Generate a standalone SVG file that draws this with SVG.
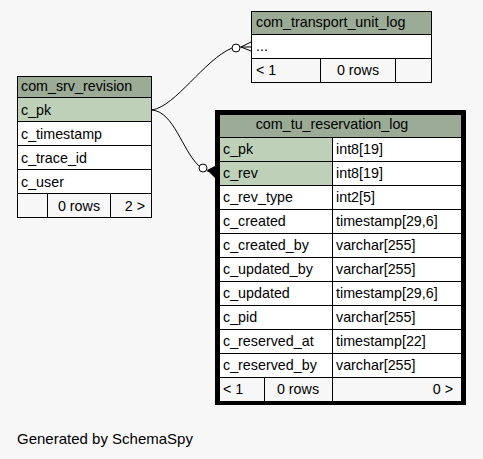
<svg xmlns="http://www.w3.org/2000/svg" width="483" height="459" viewBox="0 0 483 459">
<style>
text{font-family:"Liberation Sans",Arial,Helvetica,sans-serif;font-size:14.3px;fill:#000}
.hd{fill:#9bab96;stroke:#000;stroke-width:1}
.pk{fill:#bed1b8;stroke:#000;stroke-width:1}
.rw{fill:#ffffff;stroke:#000;stroke-width:1}
.ft{fill:#f7f7f7;stroke:#000;stroke-width:1}
.ln{stroke:#000;stroke-width:1;fill:none}
.mid{text-anchor:middle}
.end{text-anchor:end}
</style>
<rect x="0" y="0" width="483" height="459" fill="#f7f7f7"/>
<g id="connectors">
<path class="ln" d="M152,110 C176,106 204,60 232,48"/>
<circle cx="236" cy="48" r="4" fill="#fff" stroke="#000" stroke-width="1"/>
<path class="ln" d="M240,47 L252,47 M241,47 L251,42 M241,47 L251,51"/>
<path class="ln" d="M152,110 C174,112 182,150 199,166"/>
<circle cx="203" cy="168" r="4" fill="#fff" stroke="#000" stroke-width="1"/>
<polygon points="207,170 215,166 215,178" fill="#000"/>
<path class="ln" d="M207,171 L215,173"/>
</g>
<g id="com_srv_revision">
<rect class="hd" x="17.5" y="76.5" width="134" height="21"/>
<rect class="pk" x="17.5" y="97.5" width="134" height="24"/>
<rect class="rw" x="17.5" y="121.5" width="134" height="24"/>
<rect class="rw" x="17.5" y="145.5" width="134" height="24"/>
<rect class="rw" x="17.5" y="169.5" width="134" height="24"/>
<rect class="ft" x="17.5" y="193.5" width="134" height="24"/>
<path class="ln" d="M47.5,193.5 V217.5 M110.5,193.5 V217.5"/>
<text x="21" y="91">com_srv_revision</text>
<text x="21" y="114.5">c_pk</text>
<text x="21" y="138.5">c_timestamp</text>
<text x="21" y="162.5">c_trace_id</text>
<text x="21" y="186.5">c_user</text>
<text class="mid" x="79" y="210.5">0 rows</text>
<text class="end" x="145" y="210.5">2 &gt;</text>
</g>
<g id="com_transport_unit_log">
<rect class="hd" x="251.5" y="11.5" width="180" height="23"/>
<rect class="rw" x="251.5" y="34.5" width="180" height="24"/>
<rect class="ft" x="251.5" y="58.5" width="180" height="24"/>
<path class="ln" d="M320.5,58.5 V82.5 M395.5,58.5 V82.5"/>
<text x="256" y="27">com_transport_unit_log</text>
<text x="256" y="51">...</text>
<text x="256" y="75">&lt; 1</text>
<text class="mid" x="358" y="75">0 rows</text>
</g>
<g id="com_tu_reservation_log">
<rect class="hd" x="219.5" y="114.5" width="242" height="23"/>
<rect class="pk" x="219.5" y="137.5" width="113" height="24"/>
<rect class="rw" x="332.5" y="137.5" width="129" height="24"/>
<rect class="pk" x="219.5" y="161.5" width="113" height="24"/>
<rect class="rw" x="332.5" y="161.5" width="129" height="24"/>
<rect class="rw" x="219.5" y="185.5" width="113" height="24"/>
<rect class="rw" x="332.5" y="185.5" width="129" height="24"/>
<rect class="rw" x="219.5" y="209.5" width="113" height="24"/>
<rect class="rw" x="332.5" y="209.5" width="129" height="24"/>
<rect class="rw" x="219.5" y="233.5" width="113" height="24"/>
<rect class="rw" x="332.5" y="233.5" width="129" height="24"/>
<rect class="rw" x="219.5" y="257.5" width="113" height="24"/>
<rect class="rw" x="332.5" y="257.5" width="129" height="24"/>
<rect class="rw" x="219.5" y="281.5" width="113" height="24"/>
<rect class="rw" x="332.5" y="281.5" width="129" height="24"/>
<rect class="rw" x="219.5" y="305.5" width="113" height="24"/>
<rect class="rw" x="332.5" y="305.5" width="129" height="24"/>
<rect class="rw" x="219.5" y="329.5" width="113" height="24"/>
<rect class="rw" x="332.5" y="329.5" width="129" height="24"/>
<rect class="rw" x="219.5" y="353.5" width="113" height="24"/>
<rect class="rw" x="332.5" y="353.5" width="129" height="24"/>
<rect class="ft" x="219.5" y="377.5" width="242" height="24"/>
<path class="ln" d="M264.5,377.5 V401.5 M332.5,377.5 V401.5"/>
<rect x="217" y="112" width="247" height="291" fill="none" stroke="#000" stroke-width="4"/>
<text class="mid" x="332" y="129">com_tu_reservation_log</text>
<text x="223" y="154">c_pk</text><text x="336" y="154">int8[19]</text>
<text x="223" y="178">c_rev</text><text x="336" y="178">int8[19]</text>
<text x="223" y="202">c_rev_type</text><text x="336" y="202">int2[5]</text>
<text x="223" y="226">c_created</text><text x="336" y="226">timestamp[29,6]</text>
<text x="223" y="250">c_created_by</text><text x="336" y="250">varchar[255]</text>
<text x="223" y="274">c_updated_by</text><text x="336" y="274">varchar[255]</text>
<text x="223" y="298">c_updated</text><text x="336" y="298">timestamp[29,6]</text>
<text x="223" y="322">c_pid</text><text x="336" y="322">varchar[255]</text>
<text x="223" y="346">c_reserved_at</text><text x="336" y="346">timestamp[22]</text>
<text x="223" y="370">c_reserved_by</text><text x="336" y="370">varchar[255]</text>
<text x="223" y="394">&lt; 1</text>
<text class="mid" x="298" y="394">0 rows</text>
<text class="end" x="453" y="394">0 &gt;</text>
</g>
<text x="17" y="444" style="font-size:15px">Generated by SchemaSpy</text>
</svg>
